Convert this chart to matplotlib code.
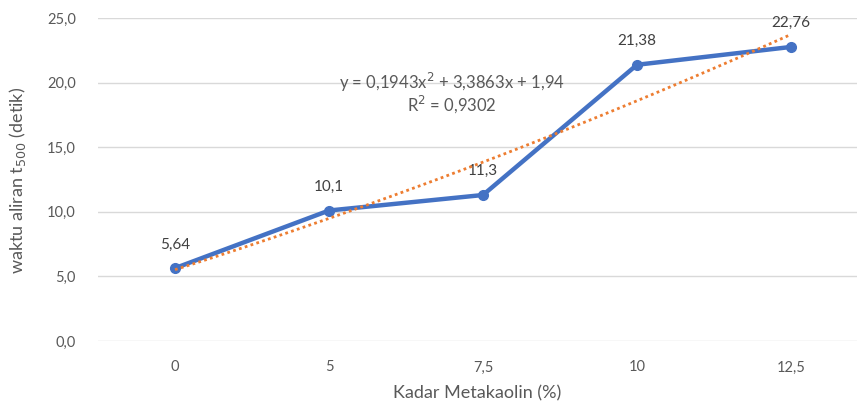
import matplotlib
matplotlib.use("Agg")
import matplotlib.pyplot as plt
from matplotlib.ticker import FuncFormatter
import numpy as np

# ── Data ───────────────────────────────────────────────────────────────────────
categories = ["0", "5", "7,5", "10", "12,5"]
waktu      = [5.64, 10.1, 11.3, 21.38, 22.76]
eq_text    = "y = 0,1943x$^2$ + 3,3863x + 1,94"
r2_text    = "R$^2$ = 0,9302"

plt.rcParams["font.family"] = ["Lato", "DejaVu Sans"]
GRAY  = "#595959"
BLUE  = "#4472C4"
ORNG  = "#ED7D31"

fig = plt.figure(figsize=(8.57, 4.07), dpi=100)
ax = fig.add_axes([98 / 857, 66 / 407, (857 - 98) / 857, 323 / 407])

x = np.arange(len(categories))
ax.plot(x, waktu, color=BLUE, linewidth=3.2, marker="o", markersize=7,
        solid_capstyle="round", zorder=3)

# polynomial trendline (order 2) fitted on category index 1..n, like Excel
coef = np.polyfit(x + 1, waktu, 2)
xs = np.linspace(0, len(categories) - 1, 100)
ax.plot(xs, np.polyval(coef, xs + 1), color=ORNG, linewidth=2,
        linestyle=(0, (1, 1.2)), zorder=4)

for xi, v in zip(x, waktu):
    ax.annotate(f"{v:g}".replace(".", ","), (xi, v), xytext=(0, 12),
                textcoords="offset points", ha="center", va="bottom",
                fontsize=11, color="#404040")

ax.text(1.8, 20.05, eq_text, ha="center", va="center", fontsize=12, color=GRAY)
ax.text(1.8, 18.3, r2_text, ha="center", va="center", fontsize=12, color=GRAY)

ax.set_ylim(0, 25)
ax.set_yticks(np.arange(0, 26, 5))
ax.yaxis.set_major_formatter(FuncFormatter(lambda v, p: f"{v:.1f}".replace(".", ",")))
ax.set_xlim(-0.5, (857 - 98) / 154 - 0.5)
ax.set_xticks(x)
ax.set_xticklabels(categories)

ax.grid(axis="y", color="#D9D9D9", linewidth=1)
ax.set_axisbelow(True)
for s in ax.spines.values():
    s.set_visible(False)
ax.tick_params(axis="both", length=0, colors=GRAY, labelsize=10.5)
ax.tick_params(axis="y", pad=16)
ax.tick_params(axis="x", pad=14)

ax.set_xlabel("Kadar Metakaolin (%)", fontsize=13, color=GRAY, labelpad=8)
fig.text(18 / 857, 1 - 180 / 407, "waktu aliran t$_{500}$ (detik)", rotation=90,
         ha="center", va="center", fontsize=13, color=GRAY)

fig.savefig("out.png", dpi=100)
plt.close(fig)
